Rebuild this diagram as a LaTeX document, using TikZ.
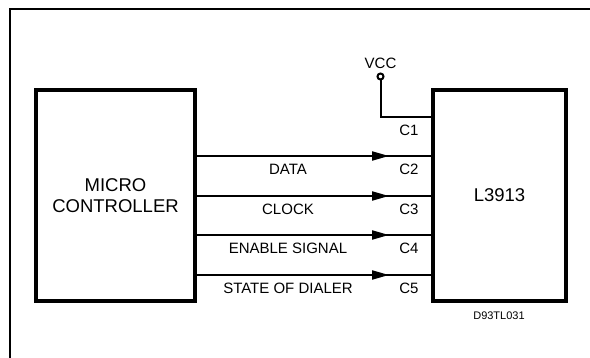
\documentclass[tikz,border=0pt]{standalone}
\usepackage{fontspec}
\setmainfont{Liberation Sans}
\usepackage{tikz}
\usetikzlibrary{arrows.meta, positioning, decorations.markings}

\begin{document}
\begin{tikzpicture}[
    x=1pt, y=-1pt,
    block node/.style={rectangle,draw,line width=4pt,outer sep=0pt,align=center,font=\fontsize{18.5}{21.6}\selectfont},
    signal/.style={line width=2pt,postaction={decorate},
      decoration={markings,mark=at position -44pt with {\arrow{Triangle[length=17pt,width=9pt]}}}},
    wire/.style={line width=2pt},
    sig label/.style={font=\fontsize{15}{18}\selectfont},
    frame/.style={line width=2pt}
]
\useasboundingbox (0,0) rectangle (590,358);

% outer frame
\draw[frame] (9.5,358) -- (9.5,9.5) -- (590,9.5);

\node[block node, minimum width=159pt, minimum height=211pt] (mcu) at (115.5,195.5) {MICRO\\CONTROLLER};
\node[block node, minimum width=133pt, minimum height=211pt] (chip) at (499.5,195.5) {L3913};

% supply pin
\node[circle,draw,line width=2pt,inner sep=0pt,minimum size=6pt] (vcc) at (380.5,76.5) {};
\node[sig label] (vcclabel) at (380.5,63.5) {VCC};
\coordinate (inC1) at (chip.west |- 0,117);
\draw[wire] (vcc) |- (inC1);
\node[sig label] (pinC1) at (409,130) {C1};

% signal lines
\foreach \y/\sig/\pin in {156/DATA/C2, 196/CLOCK/C3, 235/ENABLE SIGNAL/C4, 275/STATE OF DIALER/C5} {
  \coordinate (out\pin) at (mcu.east |- 0,\y);
  \coordinate (in\pin) at (chip.west |- 0,\y);
  \draw[signal] (out\pin) -- (in\pin);
  \node[sig label] (sig\pin) at (288,\y+13) {\sig};
  \node[sig label] (pin\pin) at (409,\y+13) {\pin};
}

\node[font=\fontsize{11}{13}\selectfont] (code) at (499,316) {D93TL031};

\end{tikzpicture}
\end{document}
